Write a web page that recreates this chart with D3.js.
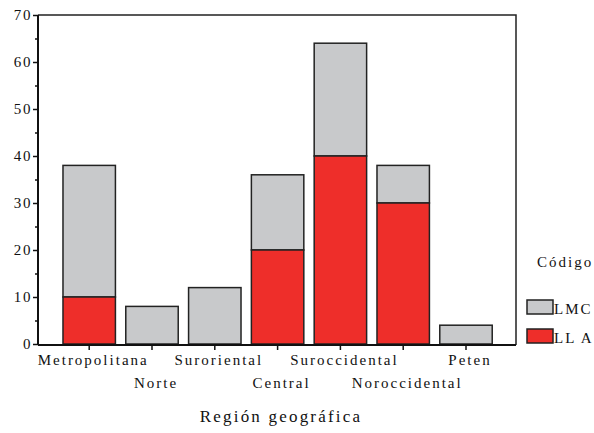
<!DOCTYPE html>
<html><head><meta charset="utf-8">
<script src="https://cdn.jsdelivr.net/npm/d3@7"></script>
<style>body{margin:0;background:#fff}svg{display:block}</style>
</head><body><svg id="c" width="594" height="433"></svg>
<script>
const categories = ["Metropolitana","Norte","Suroriental","Central","Suroccidental","Noroccidental","Peten"];
const llaValues = [10,0,0,20,40,30,0];
const lmcValues = [28,8,12,16,24,8,4];
const seriesNames = ["LMC","LLA"];
const yTicks = [0,10,20,30,40,50,60,70];
const yMinorTicks = [5,15,25,35,45,55,65];

(function(){
const svg = d3.select("#c");
const mLeft=38, mRight=516, mTop=15, mBottom=344;
const x = d3.scaleBand().domain(categories).range([57.8,497.4]).paddingInner(0.165).paddingOuter(0.0825);
const y = d3.scaleLinear().domain([0,70]).range([mBottom,mTop]);
const colors = {LMC:"#c8c9cb", LLA:"#ee2e2a"};
const font = "'Liberation Serif','Times New Roman',serif";

svg.append("path").attr("d",`M${mLeft},${mTop}H${mRight}V${mBottom+1}`).attr("fill","none").attr("stroke","#222").attr("stroke-width",1.5);

const data = categories.map((c,i)=>({c, lla:llaValues[i], lmc:lmcValues[i]}));
const g = svg.append("g");
data.forEach(d=>{
  if(d.lmc>0) g.append("rect").attr("x",x(d.c)).attr("width",x.bandwidth())
    .attr("y",y(d.lla+d.lmc)).attr("height",y(d.lla)-y(d.lla+d.lmc))
    .attr("fill",colors.LMC).attr("stroke","#222").attr("stroke-width",1.5);
  if(d.lla>0) g.append("rect").attr("x",x(d.c)).attr("width",x.bandwidth())
    .attr("y",y(d.lla)).attr("height",y(0)-y(d.lla))
    .attr("fill",colors.LLA).attr("stroke","#222").attr("stroke-width",1.5);
});

const ya = svg.append("g").attr("transform",`translate(${mLeft},0)`)
  .call(d3.axisLeft(y).tickValues(yTicks).tickSize(5).tickPadding(1));
ya.select(".domain").attr("stroke","#111").attr("stroke-width",2).attr("d",`M0,${mTop}V${mBottom+1}`);
ya.selectAll("line").attr("stroke","#111").attr("stroke-width",1.5);
ya.selectAll("text").attr("font-family",font).attr("font-size",15).attr("letter-spacing",1.6).attr("fill","#111").attr("dy","0.3em");
const ym = svg.append("g").attr("transform",`translate(${mLeft},0)`)
  .call(d3.axisLeft(y).tickValues(yMinorTicks).tickSize(3).tickFormat(""));
ym.select(".domain").remove();
ym.selectAll("line").attr("stroke","#111").attr("stroke-width",1.5);

const xa = svg.append("g").attr("transform",`translate(0,${mBottom+1})`)
  .call(d3.axisBottom(x).tickSize(5).tickPadding(0));
xa.select(".domain").attr("stroke","#111").attr("stroke-width",2).attr("d",`M${mLeft},0H${mRight}`);
xa.selectAll("line").attr("stroke","#111").attr("stroke-width",1.5);
xa.selectAll("text").attr("font-family",font).attr("font-size",15).attr("letter-spacing",2).attr("fill","#111")
  .attr("y",(d,i)=> i%2===0 ? 20 : 43).attr("dy",null).attr("dx",4);

svg.append("text").attr("x",281).attr("y",422).attr("text-anchor","middle")
  .attr("font-family",font).attr("font-size",17).attr("letter-spacing",2.2).attr("fill","#111").text("Región geográfica");

const lg = svg.append("g");
lg.append("text").attr("x",537).attr("y",267).attr("font-family",font).attr("font-size",15).attr("letter-spacing",2).attr("fill","#111").text("Código");
seriesNames.forEach((s,i)=>{
  const yy = 300 + i*29;
  lg.append("rect").attr("x",527).attr("y",yy).attr("width",26).attr("height",14)
    .attr("fill",colors[s]).attr("stroke","#222").attr("stroke-width",1.5);
  lg.append("text").attr("x",554).attr("y",yy+14).attr("font-family",font).attr("font-size",15).attr("letter-spacing",2).attr("fill","#111").text(s==="LLA"?"LL A":s);
});
})();
</script></body></html>
